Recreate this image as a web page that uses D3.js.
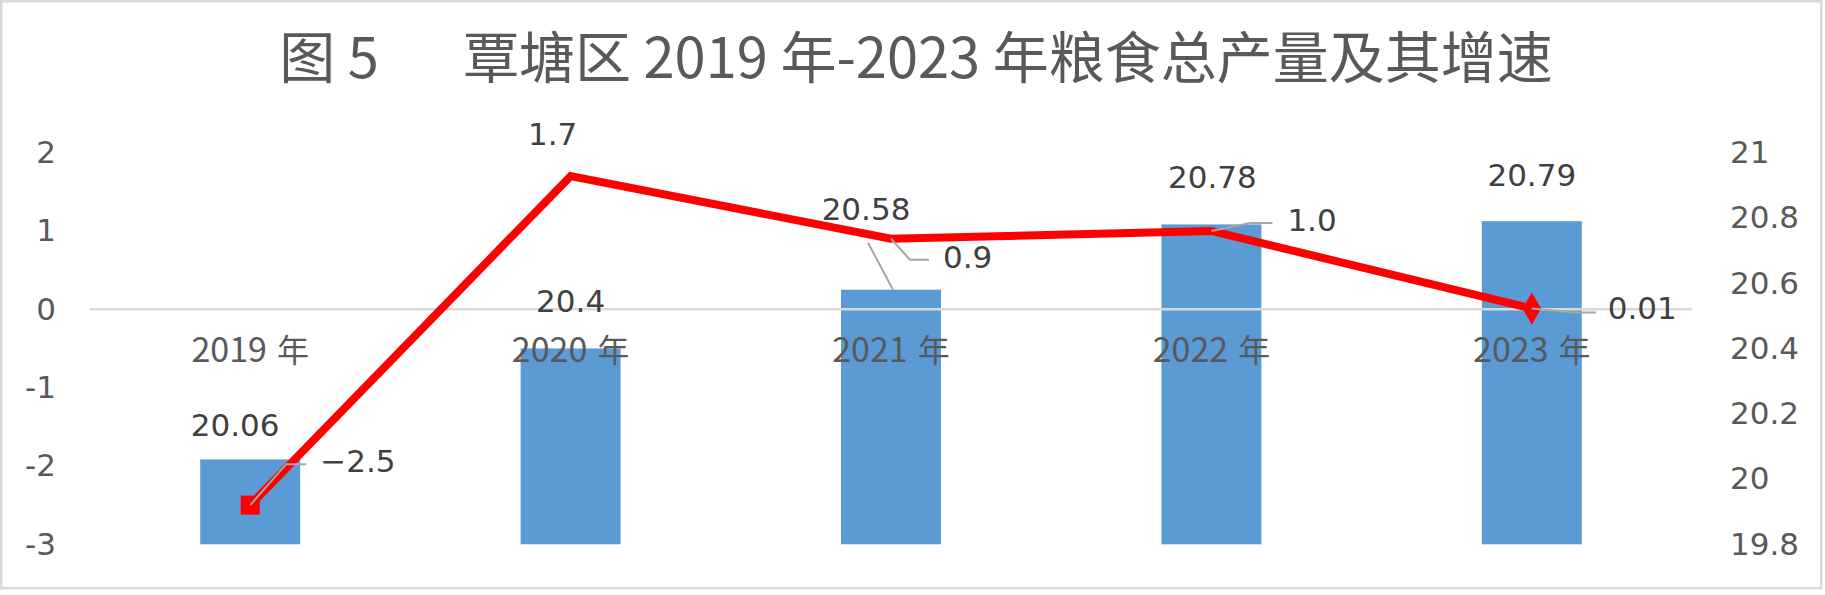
<!DOCTYPE html>
<html>
<head>
<meta charset="utf-8">
<script src="https://cdn.jsdelivr.net/npm/d3@7"></script>
<style>
  html, body { margin: 0; padding: 0; background: #fff; }
  svg { display: block; }
</style>
</head>
<body>
<div id="chart"></div>
<script>
// Data
const categories = ['2019年', '2020年', '2021年', '2022年', '2023年'];
const grainOutput = [20.06, 20.4, 20.58, 20.78, 20.79];
const growthRate = [-2.5, 1.7, 0.9, 1.0, 0.01];
const growthText = ['\u22122.5', '1.7', '0.9', '1.0', '0.01'];
const leftTicks = [-3, -2, -1, 0, 1, 2];
const rightTicks = [19.8, 20, 20.2, 20.4, 20.6, 20.8, 21];
const titleText = '图 5\u3000覃塘区 2019 年-2023 年粮食总产量及其增速';

// Layout of the moved data labels (offsets from their point)
const barLabelShift = [[-15, -23], [0, -36], [-25, -70], [1, -36], [0, -35]];
const lineLabelShift = [[70, -33, 'start'], [-18, -31, 'middle'], [52, 29, 'start'], [76, 0, 'start'], [76, 11, 'start']];
const lineLeaders = [
    [[0, 0], [36, -41], [56, -41]],
    null,
    [[0, 0], [19, 21], [38, 21]],
    [[0, 0], [39, -8], [61, -8]],
    [[0, 0], [43, 4], [64, 4]]
];
const barLeaders = [null, null, [[-23, -47], [2, 0]], null, null];

const W = 1825, H = 595;
const plot = { left: 90, right: 1692, top: 152.6, bottom: 544.3 };

const cjkFont = "'Noto Sans CJK SC', sans-serif";
const narrowFont = "'Noto Sans CJK SC', sans-serif";
const numFont = "'DejaVu Sans', sans-serif";

const svg = d3.select('#chart').append('svg')
    .attr('width', W)
    .attr('height', H);

svg.append('rect')
    .attr('x', 1.2).attr('y', 1.2)
    .attr('width', 1820).attr('height', 587)
    .attr('fill', '#fff')
    .attr('stroke', '#d9d9d9')
    .attr('stroke-width', 2.5);

// Title: split into CJK / latin runs, wide gap after the figure number
const title = svg.append('text')
    .attr('x', 916)
    .attr('y', 78)
    .attr('text-anchor', 'middle')
    .attr('fill', '#595959');

const runs = titleText.match(/[\u3000]|[\u4e00-\u9fff]+|[^\u4e00-\u9fff\u3000]+/g);
let gap = 0;
runs.forEach(r => {
    if (r === '\u3000') { gap = 84; return; }
    const isCjk = /[\u4e00-\u9fff]/.test(r);
    const t = title.append('tspan')
        .style('font-family', isCjk ? cjkFont : narrowFont)
        .style('font-size', '56px')
        .style('white-space', 'pre')
        .text(r);
    if (gap) { t.attr('dx', gap); gap = 0; }
});

// Scales
const x = d3.scaleBand()
    .domain(categories)
    .range([plot.left, plot.right])
    .paddingInner(0.688)
    .paddingOuter(0.344);

const yLeft = d3.scaleLinear().domain([-3, 2]).range([plot.bottom, plot.top]);
const yRight = d3.scaleLinear().domain([19.8, 21]).range([plot.bottom, plot.top]);
const cx = c => x(c) + x.bandwidth() / 2;

// Bars
svg.append('g').selectAll('rect')
    .data(categories)
    .join('rect')
    .attr('x', d => x(d))
    .attr('width', x.bandwidth())
    .attr('y', (d, i) => yRight(grainOutput[i]))
    .attr('height', (d, i) => yRight(19.8) - yRight(grainOutput[i]))
    .attr('fill', '#5b9bd5');

// Zero line (category axis)
svg.append('line')
    .attr('x1', plot.left).attr('x2', plot.right)
    .attr('y1', yLeft(0)).attr('y2', yLeft(0))
    .attr('stroke', '#d9d9d9')
    .attr('stroke-width', 2.5);

// Category labels at the zero line
const catLabels = svg.append('g').selectAll('text')
    .data(categories)
    .join('text')
    .attr('x', d => cx(d))
    .attr('y', yLeft(0) + 53)
    .attr('text-anchor', 'middle')
    .attr('fill', '#595959');
catLabels.append('tspan')
    .style('font-family', narrowFont)
    .style('font-size', '34px')
    .text(d => d.replace('年', ''));
catLabels.append('tspan')
    .attr('dx', 10)
    .style('font-family', cjkFont)
    .style('font-size', '32px')
    .text('年');

// Axes
const leftAxis = d3.axisLeft(yLeft).tickValues(leftTicks).tickSize(0).tickPadding(0)
    .tickFormat(d => d3.format('d')(d).replace('\u2212', '-'));
const gl = svg.append('g').attr('transform', 'translate(56,0)').call(leftAxis);

const rightAxis = d3.axisRight(yRight).tickValues(rightTicks).tickSize(0).tickPadding(0)
    .tickFormat(d => String(+d.toFixed(1)));
const gr = svg.append('g').attr('transform', 'translate(1730,0)').call(rightAxis);

[gl, gr].forEach(g => {
    g.select('.domain').remove();
    g.selectAll('text')
        .attr('fill', '#595959')
        .style('font-family', numFont)
        .style('font-size', '31px');
});

// Bar data labels
const barLbl = svg.append('g');
categories.forEach((c, i) => {
    const px = cx(c), py = yRight(grainOutput[i]);
    if (barLeaders[i]) {
        barLbl.append('polyline')
            .attr('points', barLeaders[i].map(p => [px + p[0], py + p[1]].join(',')).join(' '))
            .attr('fill', 'none')
            .attr('stroke', '#a6a6a6')
            .attr('stroke-width', 2);
    }
    barLbl.append('text')
        .attr('x', px + barLabelShift[i][0])
        .attr('y', py + barLabelShift[i][1])
        .attr('text-anchor', 'middle')
        .attr('fill', '#404040')
        .style('font-family', numFont)
        .style('font-size', '31px')
        .text(grainOutput[i]);
});

// Growth line
const line = d3.line()
    .x((d, i) => cx(categories[i]))
    .y(d => yLeft(d));

svg.append('path')
    .datum(growthRate)
    .attr('d', line)
    .attr('fill', 'none')
    .attr('stroke', '#ff0000')
    .attr('stroke-width', 8)
    .attr('stroke-linejoin', 'miter');

// Individual point markers (square on 2019, diamond on 2023)
svg.append('path')
    .attr('d', d3.symbol(d3.symbolSquare, 19 * 19)())
    .attr('transform', `translate(${cx(categories[0])},${yLeft(growthRate[0])})`)
    .attr('fill', '#ff0000');
svg.append('path')
    .attr('d', d3.symbol(d3.symbolDiamond, 300)())
    .attr('transform', `translate(${cx(categories[4])},${yLeft(growthRate[4])})`)
    .attr('fill', '#ff0000');

// Line data labels with leaders
const lineLbl = svg.append('g');
growthRate.forEach((v, i) => {
    const px = cx(categories[i]), py = yLeft(v);
    if (lineLeaders[i]) {
        lineLbl.append('polyline')
            .attr('points', lineLeaders[i].map(p => [px + p[0], py + p[1]].join(',')).join(' '))
            .attr('fill', 'none')
            .attr('stroke', '#a6a6a6')
            .attr('stroke-width', 2);
    }
    lineLbl.append('text')
        .attr('x', px + lineLabelShift[i][0])
        .attr('y', py + lineLabelShift[i][1])
        .attr('text-anchor', lineLabelShift[i][2])
        .attr('fill', '#404040')
        .style('font-family', numFont)
        .style('font-size', '31px')
        .text(growthText[i]);
});
</script>
</body>
</html>
